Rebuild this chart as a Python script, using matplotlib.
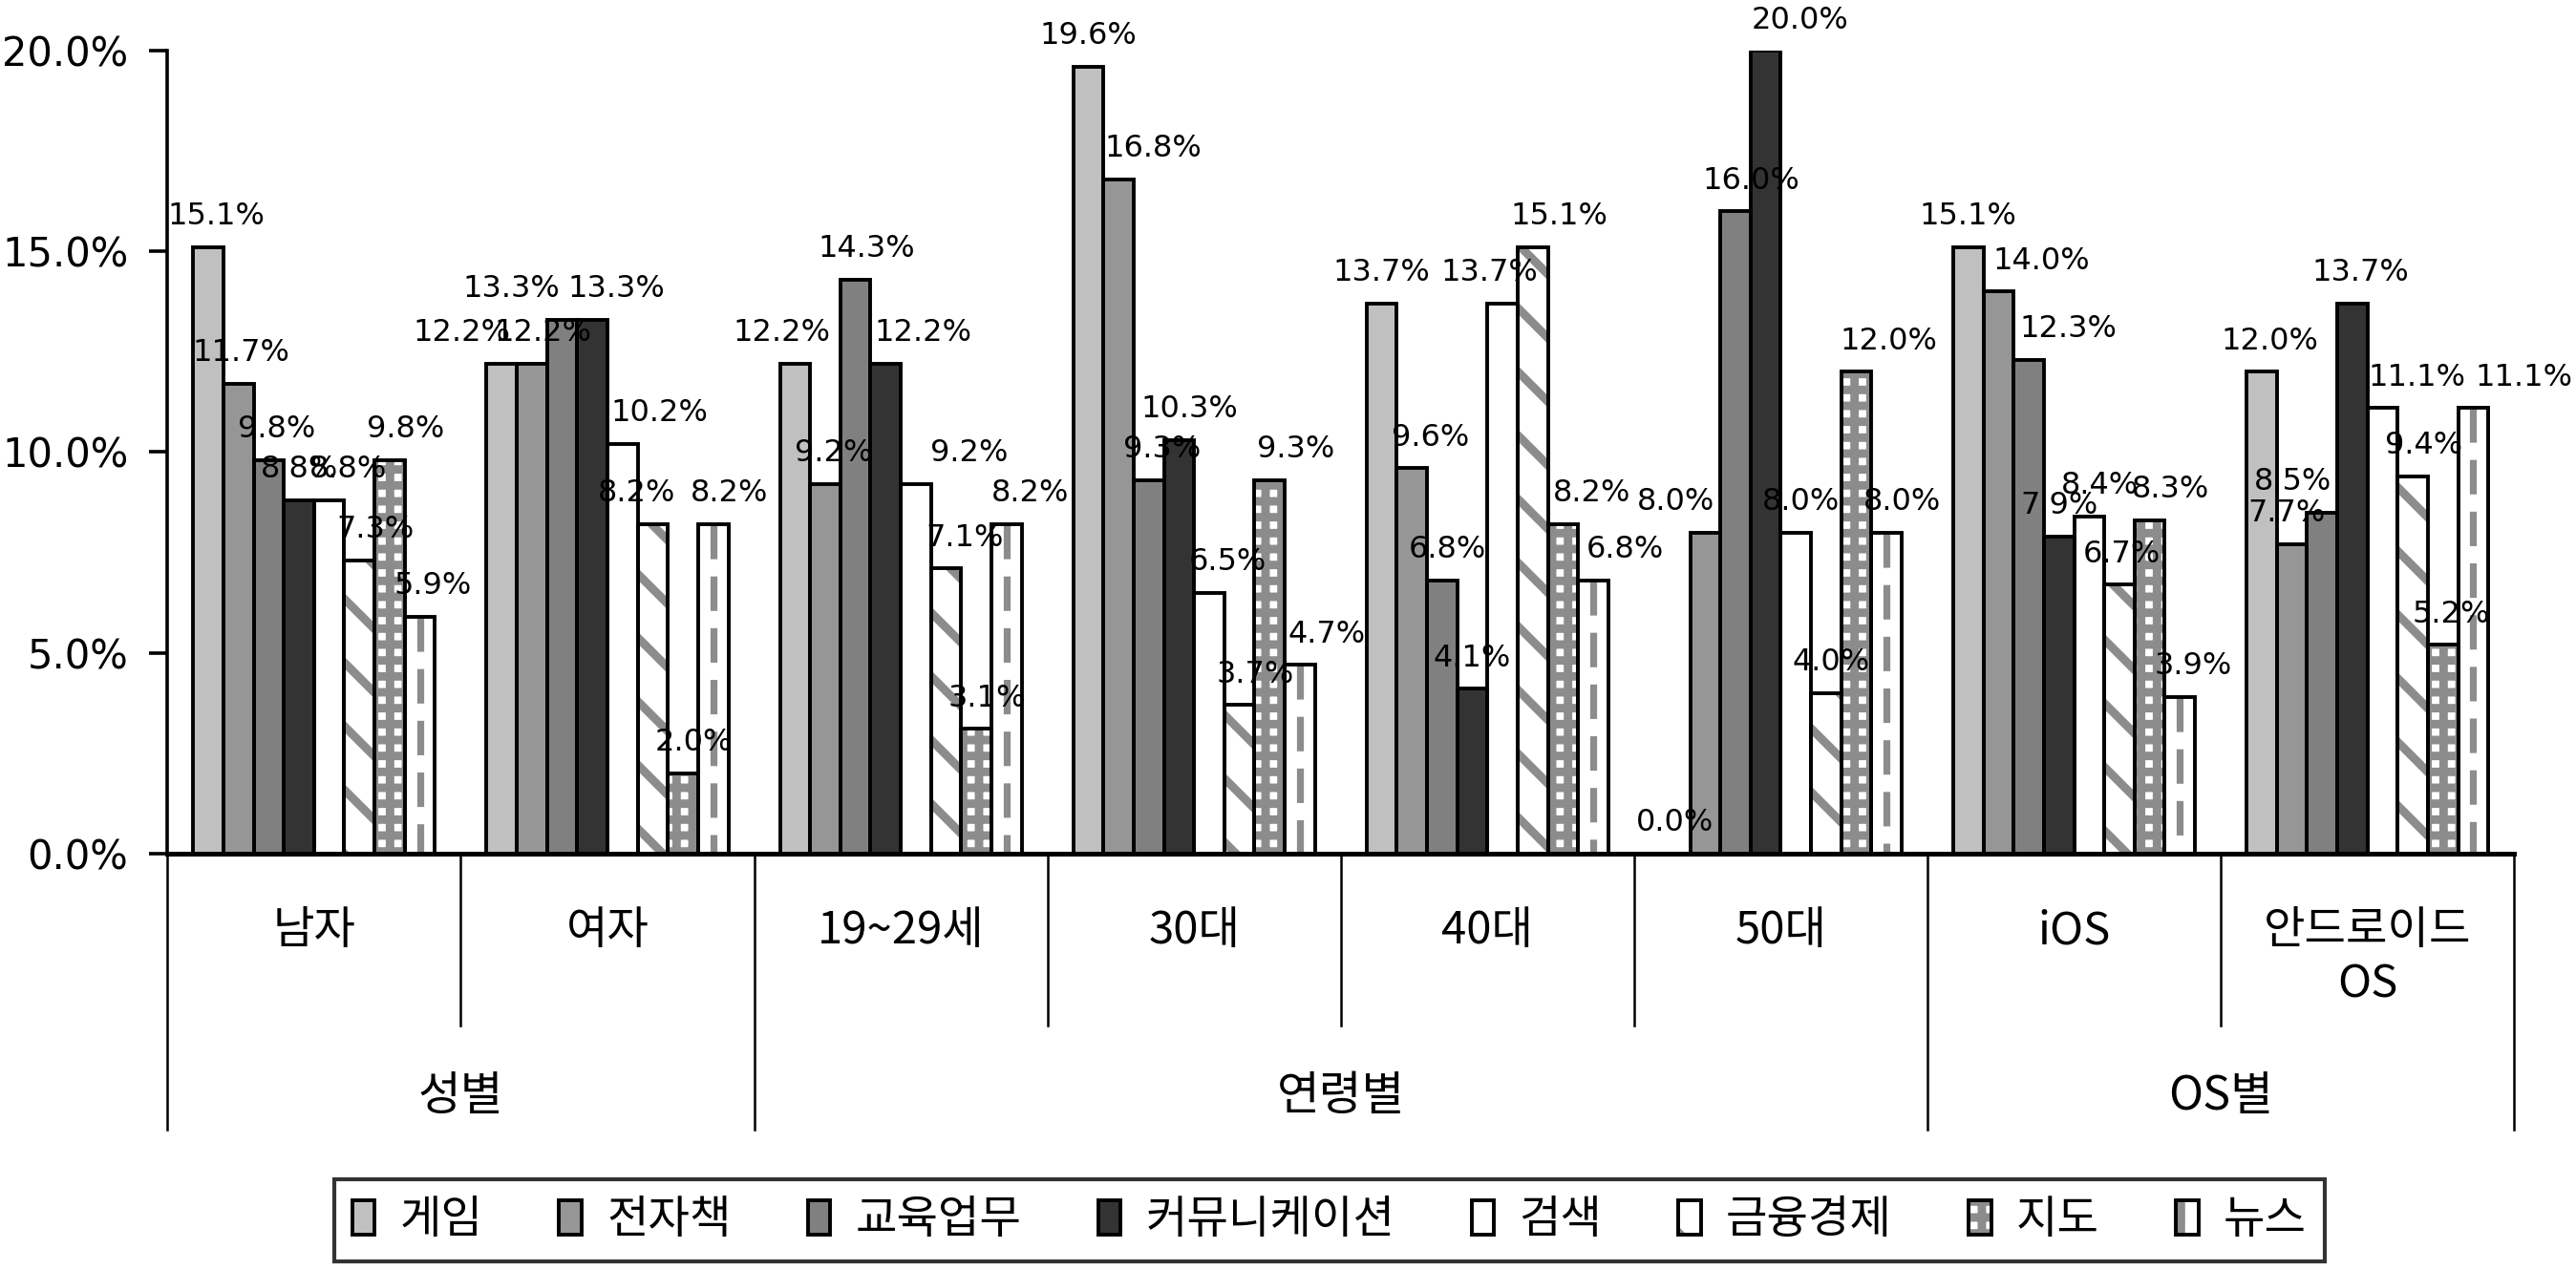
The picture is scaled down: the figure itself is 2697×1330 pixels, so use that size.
import matplotlib
matplotlib.use('Agg')
import matplotlib.pyplot as plt
from matplotlib import font_manager as fm
from matplotlib.patches import Patch
from matplotlib.transforms import blended_transform_factory
import numpy as np

categories = ['남자', '여자', '19~29세', '30대', '40대', '50대', 'iOS', '안드로이드\nOS']
groups = ['성별', '연령별', 'OS별']
group_first = [0, 2, 6]
group_last = [1, 5, 7]
series = ['게임', '전자책', '교육업무', '커뮤니케이션', '검색', '금융경제', '지도', '뉴스']

game = [15.1, 12.2, 12.2, 19.6, 13.7, 0.0, 15.1, 12.0]
ebook = [11.7, 12.2, 9.2, 16.8, 9.6, 8.0, 14.0, 7.7]
edu = [9.8, 13.3, 14.3, 9.3, 6.8, 16.0, 12.3, 8.5]
comm = [8.8, 13.3, 12.2, 10.3, 4.1, 20.0, 7.9, 13.7]
search = [8.8, 10.2, 9.2, 6.5, 13.7, 8.0, 8.4, 11.1]
finance = [7.3, 8.2, 7.1, 3.7, 15.1, 4.0, 6.7, 9.4]
mapv = [9.8, 2.0, 3.1, 9.3, 8.2, 12.0, 8.3, 5.2]
news = [5.9, 8.2, 8.2, 4.7, 6.8, 8.0, 3.9, 11.1]
yticks = [0, 5, 10, 15, 20]

# horizontal nudges of the value labels (points), per category row, per series column
label_dx = [
    [3, 1, 3, 0, 7, 6, 6, 5],
    [-15, 4, -19, 9, 14, -6, 4, 6],
    [-5, 3, 4, 14, 20, 7, 4, 9],
    [0, 13, 5, 4, 7, 6, 10, 10],
    [0, 7, 2, 0, -5, 10, 11, 12],
    [0, -11, 6, 13, 2, 2, 12, 6],
    [0, 16, 15, 0, 4, 1, 8, 5],
    [3, -2, -11, 3, 13, 4, 3, 19],
]

all_values = [game, ebook, edu, comm, search, finance, mapv, news]
facecolors = ['#c0c0c0', '#969696', '#808080', '#333333', 'white', 'white', 'white', 'white']
hatches = [None, None, None, None, None, '\\', '++', None]
HATCH_GRAY = '#8c8c8c'


def has_font(name):
    try:
        fm.findfont(fm.FontProperties(family=name), fallback_to_default=False)
        return True
    except Exception:
        return False


if has_font('Liberation Sans Narrow'):
    LABEL_FONT = dict(family='Liberation Sans Narrow', fontsize=15)
    TICK_FONT = dict(family='Liberation Sans Narrow', fontsize=19)
else:
    LABEL_FONT = dict(family='DejaVu Sans', fontsize=11.5)
    TICK_FONT = dict(family='DejaVu Sans', fontsize=15)

plt.rcParams['hatch.linewidth'] = 3.2
plt.rcParams['font.family'] = ['DejaVu Sans']
KFONT = ['Noto Sans CJK KR', 'DejaVu Sans']

fig = plt.figure(figsize=(13.485, 6.65), dpi=200)
ax = fig.add_axes([0.065, 0.328, 0.911, 0.632])

n = len(series)
bw = 0.103
x = np.arange(len(categories))
for j, (vals, fc, h) in enumerate(zip(all_values, facecolors, hatches)):
    pos = x + (j - (n - 1) / 2) * bw
    ax.bar(pos, vals, bw, color=fc, hatch=h, edgecolor=HATCH_GRAY if h else fc,
           linewidth=0, zorder=2)
    if series[j] == '뉴스':
        ax.vlines(pos, vals, [0] * len(vals), colors=HATCH_GRAY, linewidth=2.6,
                  linestyles=(0, (5, 2.5)), zorder=2.5)
    ax.bar(pos, vals, bw, fill=False, edgecolor='black', linewidth=1.4, zorder=3)
    for i, (px, v) in enumerate(zip(pos, vals)):
        ax.annotate(f'{v:.1f}%', (px, v), xytext=(label_dx[i][j], 6),
                    textcoords='offset points', ha='center', va='bottom',
                    zorder=4, **LABEL_FONT)

ax.set_xlim(-0.5, len(categories) - 0.5)
ax.set_ylim(0, 20)
ax.set_yticks(yticks)
ax.set_yticklabels([f'{t:.1f}%' for t in yticks], **TICK_FONT)
ax.tick_params(axis='y', length=6.8, width=1.3, pad=8, direction='out')
ax.set_xticks([])
for s in ['top', 'right']:
    ax.spines[s].set_visible(False)
ax.spines['left'].set_linewidth(1.3)
ax.spines['bottom'].set_linewidth(1.8)
ax.spines['bottom'].set_zorder(5)

tr = blended_transform_factory(ax.transData, ax.transAxes)
group_edges = set()
for a, b in zip(group_first, group_last):
    group_edges.add(a - 0.5)
    group_edges.add(b + 0.5)
for i in range(len(categories) + 1):
    xb = i - 0.5
    ybot = -0.344 if xb in group_edges else -0.215
    ax.plot([xb, xb], [0, ybot], transform=tr, color='black', lw=0.9, clip_on=False)

for i, c in enumerate(categories):
    ax.text(i, -0.068, c, transform=tr, ha='center', va='top', fontsize=17,
            family=KFONT, linespacing=1.2)
for g, a, b in zip(groups, group_first, group_last):
    ax.text((a + b) / 2, -0.303, g, transform=tr, ha='center', va='center',
            fontsize=17.5, family=KFONT)

handles = []
for j, (fc, h) in enumerate(zip(facecolors, hatches)):
    hh = h if h else ('|' if series[j] == '뉴스' else None)
    p1 = Patch(facecolor=fc, hatch=hh, edgecolor=HATCH_GRAY if hh else fc, linewidth=0)
    p2 = Patch(facecolor='none', edgecolor='black', linewidth=1.4)
    handles.append((p1, p2))
leg = fig.legend(handles, series, loc='center', bbox_to_anchor=(0.516, 0.039),
                 ncol=8, frameon=True, fancybox=False, edgecolor='black',
                 prop={'family': KFONT, 'size': 17}, handlelength=0.5,
                 handleheight=0.8, handletextpad=0.55, columnspacing=1.7,
                 borderpad=0.4, borderaxespad=0)
leg.get_frame().set_linewidth(1.5)

fig.savefig('out.png', dpi=200, facecolor='white')
